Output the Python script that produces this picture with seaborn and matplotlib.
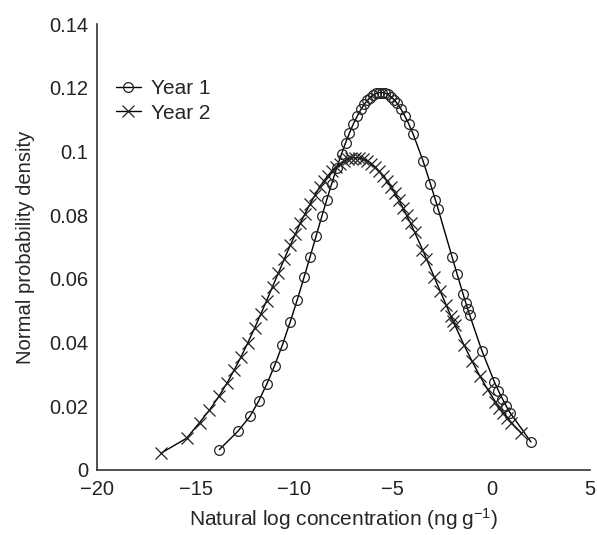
import pandas as pd
import seaborn as sns
import matplotlib.pyplot as plt

# Year 1 sample points (natural log concentration, density)
year1_x = [-13.8, -12.85, -12.25, -11.8, -11.4, -11.0, -10.6, -10.2, -9.85, -9.5,
           -9.2, -8.9, -8.6, -8.35, -8.1, -7.85, -7.6, -7.4, -7.2, -7.0,
           -6.8, -6.6, -6.45, -6.3, -6.15, -6.0, -5.85, -5.7, -5.55, -5.4,
           -5.25, -5.1, -4.95, -4.8, -4.6, -4.4, -4.2, -3.97, -3.47, -3.1,
           -2.85, -2.7, -2.0, -1.74, -1.45, -1.3, -1.2, -1.1, -0.48, 0.15,
           0.35, 0.55, 0.75, 0.95, 2.0]
year1_y = [0.0064, 0.0122, 0.0168, 0.0217, 0.0269, 0.0327, 0.0393, 0.0466, 0.0534, 0.0606,
           0.0669, 0.0733, 0.0797, 0.0849, 0.0899, 0.0948, 0.0993, 0.1027, 0.1058, 0.1087,
           0.1112, 0.1134, 0.1148, 0.1160, 0.1169, 0.1177, 0.1182, 0.1185, 0.1185, 0.1183,
           0.1179, 0.1172, 0.1163, 0.1152, 0.1134, 0.1112, 0.1087, 0.1054, 0.0970, 0.0899,
           0.0849, 0.0818, 0.0669, 0.0614, 0.0554, 0.0524, 0.0504, 0.0485, 0.0373, 0.0276,
           0.0249, 0.0224, 0.0200, 0.0179, 0.0088]

# Year 2 sample points
year2_x = [-16.75, -15.45, -14.8, -14.3, -13.8, -13.4, -13.05, -12.7, -12.35, -12.0,
           -11.7, -11.4, -11.1, -10.8, -10.5, -10.2, -9.95, -9.7, -9.45, -9.2,
           -8.95, -8.7, -8.5, -8.3, -8.1, -7.9, -7.7, -7.5, -7.3, -7.1,
           -6.9, -6.7, -6.5, -6.3, -6.1, -5.9, -5.7, -5.5, -5.3, -5.1,
           -4.9, -4.7, -4.5, -4.3, -4.1, -3.9, -3.5, -3.3, -2.9, -2.6,
           -2.3, -2.05, -1.95, -1.85, -1.4, -1.0, -0.6, -0.2, 0.2, 0.4,
           0.6, 0.8, 1.0, 1.5]
year2_y = [0.0053, 0.0100, 0.0149, 0.0188, 0.0233, 0.0274, 0.0313, 0.0355, 0.0400, 0.0447,
           0.0489, 0.0532, 0.0576, 0.0619, 0.0663, 0.0706, 0.0740, 0.0774, 0.0805, 0.0835,
           0.0863, 0.0889, 0.0907, 0.0924, 0.0938, 0.0951, 0.0961, 0.0969, 0.0975, 0.0980,
           0.0980, 0.0980, 0.0975, 0.0969, 0.0961, 0.0951, 0.0938, 0.0924, 0.0907, 0.0889,
           0.0869, 0.0847, 0.0824, 0.0799, 0.0774, 0.0747, 0.0692, 0.0663, 0.0605, 0.0561,
           0.0518, 0.0482, 0.0468, 0.0454, 0.0393, 0.0343, 0.0296, 0.0253, 0.0214, 0.0196,
           0.0180, 0.0164, 0.0149, 0.0117]

x_ticks = [-20, -15, -10, -5, 0, 5]
x_tick_labels = ['\u221220', '\u221215', '\u221210', '\u22125', '0', '5']
y_ticks = [0, 0.02, 0.04, 0.06, 0.08, 0.1, 0.12, 0.14]
y_tick_labels = ['0', '0.02', '0.04', '0.06', '0.08', '0.1', '0.12', '0.14']

sns.set_style('white')
plt.rcParams['font.family'] = ['Liberation Sans', 'DejaVu Sans']
plt.rcParams['mathtext.fontset'] = 'custom'
plt.rcParams['mathtext.rm'] = 'Liberation Sans'
plt.rcParams['mathtext.it'] = 'Liberation Sans:italic'

df1 = pd.DataFrame({'x': year1_x, 'y': year1_y})
df2 = pd.DataFrame({'x': year2_x, 'y': year2_y})

fig = plt.figure(figsize=(5.97, 5.35), dpi=100)
ax = fig.add_axes([0.1625, 0.1215, 0.826, 0.8336])

sns.lineplot(data=df1, x='x', y='y', ax=ax, sort=False, color='black', lw=1.0,
             marker='o', ms=7, mfc='none', mec='#222222', mew=0.9, label='Year 1')
sns.lineplot(data=df2, x='x', y='y', ax=ax, sort=False, color='black', lw=1.0,
             marker='x', ms=9, mec='#222222', mew=0.9, label='Year 2')

ax.set_xlim(-20, 5)
ax.set_ylim(0, 0.14)
ax.set_xticks(x_ticks)
ax.set_xticklabels(x_tick_labels)
ax.set_yticks(y_ticks)
ax.set_yticklabels(y_tick_labels)
ax.tick_params(length=0, labelsize=14.5, colors='#222222')
ax.tick_params(axis='y', pad=6.5)
ax.tick_params(axis='x', pad=7.5)
ax.set_xlabel('Natural log concentration (ng\u2009g$^{\u22121}$)', fontsize=15, labelpad=5)
ax.set_ylabel('Normal probability density', fontsize=14.6, labelpad=10)

sns.despine(ax=ax)
for s in ['left', 'bottom']:
    ax.spines[s].set_color('#333333')
    ax.spines[s].set_linewidth(1.2)

ax.legend(loc='upper left', bbox_to_anchor=(0.0, 0.918), frameon=False, fontsize=15,
          handlelength=1.2, handletextpad=0.5, labelspacing=0.25)

fig.savefig('out.png', dpi=100)
